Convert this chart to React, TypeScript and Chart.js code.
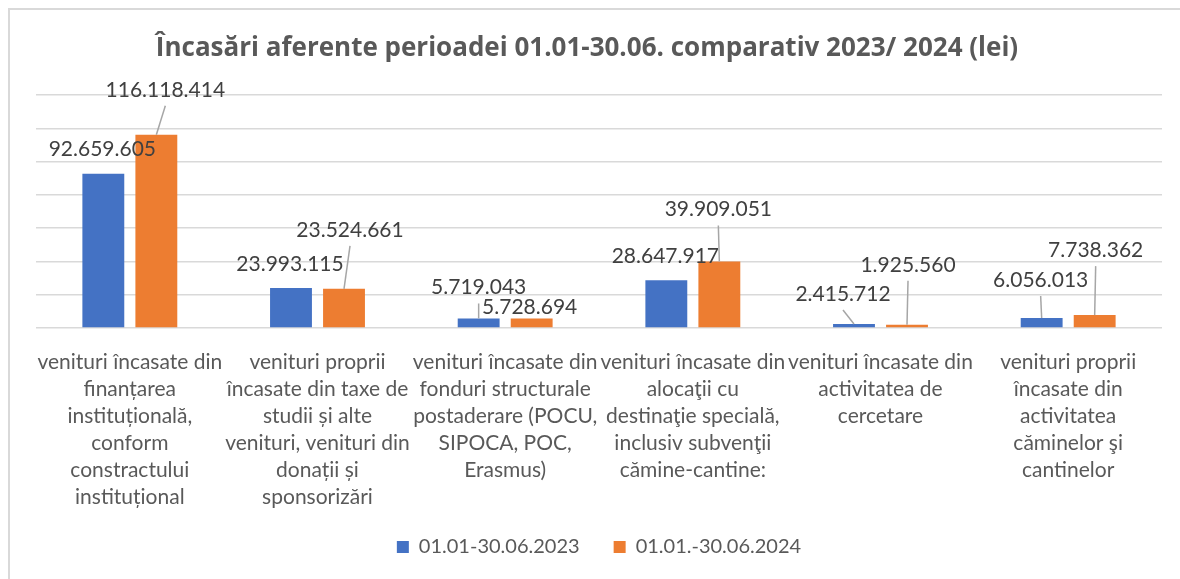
import React, { useEffect, useRef } from "react";
import { Chart, registerables } from "chart.js";

Chart.register(...registerables);

const TITLE = "Încasări aferente perioadei 01.01-30.06. comparativ 2023/ 2024 (lei)";

const categories: string[][] = [
  ["venituri încasate din", "finanțarea", "instituțională,", "conform", "constractului", "instituțional"],
  ["venituri proprii", "încasate din taxe de", "studii și alte", "venituri, venituri din", "donații și", "sponsorizări"],
  ["venituri încasate din", "fonduri structurale", "postaderare (POCU,", "SIPOCA, POC,", "Erasmus)"],
  ["venituri încasate din", "alocaţii cu", "destinaţie specială,", "inclusiv subvenţii", "cămine-cantine:"],
  ["venituri încasate din", "activitatea de", "cercetare"],
  ["venituri proprii", "încasate din", "activitatea", "căminelor şi", "cantinelor"],
];

const seriesNames = ["01.01-30.06.2023", "01.01.-30.06.2024"];
const values2023 = [92659605, 23993115, 5719043, 28647917, 2415712, 6056013];
const values2024 = [116118414, 23524661, 5728694, 39909051, 1925560, 7738362];

const yMin = 0;
const yMax = 140000000;
const yStep = 20000000;

// label placement (pixel offsets of the label centre from the bar top), style only
const labelOffsets2023: number[][] = [[-1, -25], [-1, -24], [0, -31], [-1, -24], [-11, -30], [-1, -38]];
const labelOffsets2024: number[][] = [[9, -45], [6, -59], [-2, -11], [-1, -52], [1, -60], [1, -65]];

const FONT = "Lato";
const TITLE_FONT = "'Open Sans'";
const TEXT = "#595959";
const BLUE = "#4472C4";
const ORANGE = "#ED7D31";

function fmt(v: number): string {
  return String(Math.round(v)).replace(/\B(?=(\d{3})+(?!\d))/g, ".");
}

const titlePlugin = {
  id: "customTitle",
  afterDraw(chart: any) {
    const ctx = chart.ctx;
    ctx.save();
    ctx.font = `bold 26px ${TITLE_FONT}`;
    ctx.fillStyle = TEXT;
    ctx.textAlign = "center";
    ctx.textBaseline = "middle";
    ctx.fillText(TITLE, 577, 39);
    ctx.restore();
  },
};

const dataLabelPlugin = {
  id: "dataLabels",
  afterDatasetsDraw(chart: any) {
    const ctx = chart.ctx;
    ctx.save();
    ctx.font = `21px ${FONT}`;
    ctx.textAlign = "center";
    ctx.textBaseline = "middle";
    chart.data.datasets.forEach((ds: any, di: number) => {
      const meta = chart.getDatasetMeta(di);
      const offs = di === 0 ? labelOffsets2023 : labelOffsets2024;
      meta.data.forEach((bar: any, i: number) => {
        const [dx, dy] = offs[i];
        const lx = bar.x + dx;
        const ly = bar.y + dy;
        if (dy < -28) {
          ctx.strokeStyle = "#a6a6a6";
          ctx.lineWidth = 1.5;
          ctx.beginPath();
          ctx.moveTo(lx, ly + 16);
          ctx.lineTo(bar.x, bar.y);
          ctx.stroke();
        }
        ctx.fillStyle = "#404040";
        ctx.fillText(fmt(ds.data[i]), lx, ly);
      });
    });
    ctx.restore();
  },
};

// fix the legend's box height and lift it slightly toward the axis labels
const legendPlacementPlugin = {
  id: "legendPlacement",
  beforeInit(chart: any) {
    const legend = chart.legend;
    if (!legend) return;
    const orig = legend.fit;
    legend.fit = function () {
      orig.call(this);
      this.height = 64;
    };
  },
  afterLayout(chart: any) {
    const legend = chart.legend;
    if (!legend) return;
    legend.top -= 12;
    legend.bottom -= 12;
  },
};

export default function App() {
  const ref = useRef<HTMLCanvasElement | null>(null);

  useEffect(() => {
    const html = document.documentElement as any;
    html.style.overflow = "hidden";
    html.style.scrollbarWidth = "none";
    document.body.style.overflow = "hidden";
    if (!ref.current) return;
    const chart = new Chart(ref.current, {
      type: "bar",
      data: {
        labels: categories,
        datasets: [
          {
            label: seriesNames[0],
            data: values2023,
            backgroundColor: BLUE,
            borderWidth: 0,
            categoryPercentage: 0.565,
            barPercentage: 0.79,
          },
          {
            label: seriesNames[1],
            data: values2024,
            backgroundColor: ORANGE,
            borderWidth: 0,
            categoryPercentage: 0.565,
            barPercentage: 0.79,
          },
        ],
      },
      options: {
        responsive: false,
        animation: false,
        devicePixelRatio: 1,
        layout: { padding: { top: 85, left: 26, right: 18, bottom: 0 } },
        scales: {
          x: {
            grid: { display: false },
            border: { display: false },
            afterFit: (scale: any) => {
              scale.height = 187;
            },
            ticks: {
              autoSkip: false,
              maxRotation: 0,
              minRotation: 0,
              padding: 13,
              color: TEXT,
              font: { family: FONT, size: 21, lineHeight: 27 / 21 },
            },
          },
          y: {
            min: yMin,
            max: yMax,
            ticks: { display: false, stepSize: yStep },
            grid: { color: "#d9d9d9", lineWidth: 1.5, drawTicks: false },
            border: { display: false },
          },
        },
        plugins: {
          title: { display: false },
          tooltip: { enabled: false },
          legend: {
            position: "bottom",
            labels: {
              boxWidth: 12,
              boxHeight: 12,
              padding: 34,
              color: TEXT,
              font: { family: FONT, size: 20 },
            },
          },
        },
      },
      plugins: [titlePlugin, dataLabelPlugin, legendPlacementPlugin],
    });
    return () => chart.destroy();
  }, []);

  return (
    <div
      style={{
        position: "fixed",
        left: 8,
        top: 8,
        width: 1170,
        height: 569,
        borderLeft: "2px solid #d9d9d9",
        borderTop: "2px solid #d9d9d9",
        background: "#fff",
      }}
    >
      <canvas ref={ref} width={1170} height={569} style={{ display: "block", width: 1170, height: 569 }} />
    </div>
  );
}
